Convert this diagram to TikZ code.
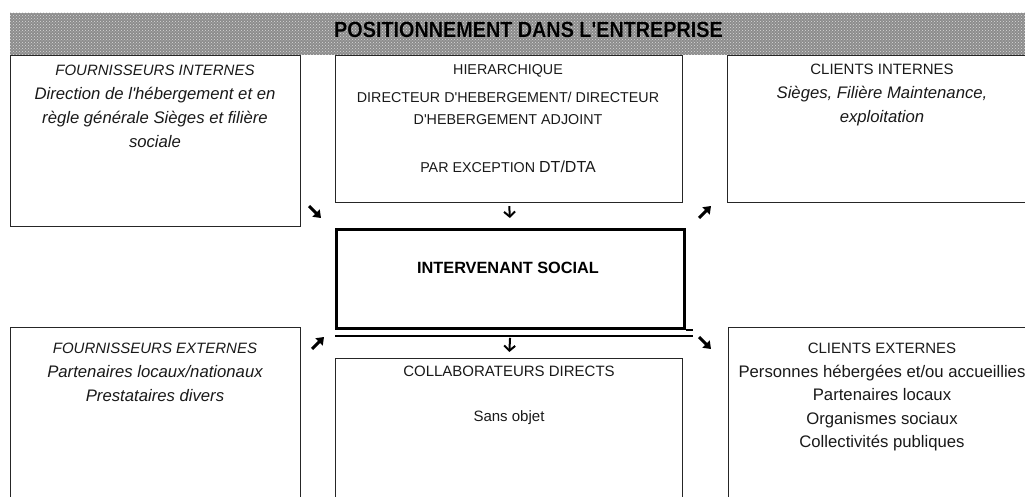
\documentclass[tikz,border=0pt]{standalone}
\usepackage{fontspec}
\setmainfont{Liberation Sans}
\usepackage{graphicx}
\usetikzlibrary{arrows.meta,patterns}
\begin{document}
\begin{tikzpicture}[x=1pt,y=-1pt,
  box/.style={draw=black!85,line width=1.2pt,rectangle,inner sep=0pt,anchor=north west},
  mainbox/.style={box,draw=black,line width=2.8pt},
  txt/.style={anchor=north,inner sep=0pt,align=center,text=black!90},
  bodyfont/.style={font=\fontsize{16.7}{24}\selectfont},
  diag/.style={line width=3pt,black,-{Triangle[length=7pt,width=10pt]}},
  downarr/.style={line width=2pt,black,-{Straight Barb[length=5pt,width=11pt,line width=2pt]}}]
\useasboundingbox (0,0) rectangle (1025,497);
\clip (0,0) rectangle (1025,497);
% title band
\fill[black!45] (10,13) rectangle (1025,55);
\fill[pattern=crosshatch dots,pattern color=black!15] (10,13) rectangle (1025,55);
\node[anchor=base,inner sep=0pt,text=black] (title) at (528.5,38)
  {\fontsize{22}{26}\selectfont\bfseries\scalebox{0.9}[1]{POSITIONNEMENT DANS L\textquotesingle ENTREPRISE}};
% boxes
\node[box,minimum width=290,minimum height=171] (fi) at (10,55) {};
\node[box,minimum width=347,minimum height=147] (hier) at (335,55) {};
\node[box,minimum width=320,minimum height=147] (ci) at (727,55) {};
\node[mainbox,minimum width=348,minimum height=99] (is) at (335,228) {};
\node[box,minimum width=347,minimum height=160] (collab) at (335,358) {};
\node[box,minimum width=290,minimum height=190] (fe) at (10,327) {};
\node[box,minimum width=320,minimum height=190] (ce) at (728,327) {};
% double line under the central box
\draw[line width=2.2pt,black] (is.south east) -- ([xshift=7pt]is.south east);
\draw[line width=2pt,black] ([yshift=-6pt]is.south west) -- ([xshift=7pt,yshift=-6pt]is.south east);
% texts
\node[txt,bodyfont] (fitxt) at (155,65.3)
  {{\fontsize{15}{24}\selectfont\itshape FOURNISSEURS INTERNES}\\
   \itshape Direction de l\textquotesingle hébergement et en\\
   \itshape règle générale Sièges et filière\\
   \itshape sociale};
\node[txt,font=\fontsize{14.3}{22}\selectfont] (hiertxt) at (508,64.8)
  {HIERARCHIQUE\\[6pt]
   DIRECTEUR D\textquotesingle HEBERGEMENT/ DIRECTEUR\\
   D\textquotesingle HEBERGEMENT ADJOINT\\[26pt]
   PAR EXCEPTION {\fontsize{16}{22}\selectfont DT/DTA}};
\node[txt,bodyfont] (citxt) at (882,64.3)
  {{\fontsize{15}{24}\selectfont CLIENTS INTERNES}\\
   \itshape Sièges, Filière Maintenance,\\
   \itshape exploitation};
\node[anchor=base,inner sep=0pt,text=black,font=\fontsize{16.3}{20}\selectfont\bfseries] (istxt) at (508,273) {INTERVENANT SOCIAL};
\node[txt,font=\fontsize{15}{24}\selectfont] (coltxt) at (509,366.3)
  {COLLABORATEURS DIRECTS\\[21pt]
   Sans objet};
\node[txt,bodyfont] (fetxt) at (155,343.3)
  {{\fontsize{15}{24}\selectfont\itshape FOURNISSEURS EXTERNES}\\
   \itshape Partenaires locaux/nationaux\\
   \itshape Prestataires divers};
\node[txt,font=\fontsize{16.7}{23.5}\selectfont] (cetxt) at (882,343.3)
  {{\fontsize{15}{23.5}\selectfont CLIENTS EXTERNES}\\
   Personnes hébergées et/ou accueillies\\
   Partenaires locaux\\
   Organismes sociaux\\
   Collectivités publiques};
% arrows
\draw[downarr,shorten <=3pt,shorten >=10pt] (hier.south) -- (is.north);
\draw[downarr,shorten <=8pt,shorten >=6pt] (is.south) -- (collab.north);
\coordinate (a1s) at (309,206); \coordinate (a1e) at (321,218);
\coordinate (a2s) at (699,218); \coordinate (a2e) at (711,206);
\coordinate (a3s) at (312,349); \coordinate (a3e) at (324,337);
\coordinate (a4s) at (699,337); \coordinate (a4e) at (711,349);
\draw[diag] (a1s) -- (a1e);
\draw[diag] (a2s) -- (a2e);
\draw[diag] (a3s) -- (a3e);
\draw[diag] (a4s) -- (a4e);
\end{tikzpicture}
\end{document}
